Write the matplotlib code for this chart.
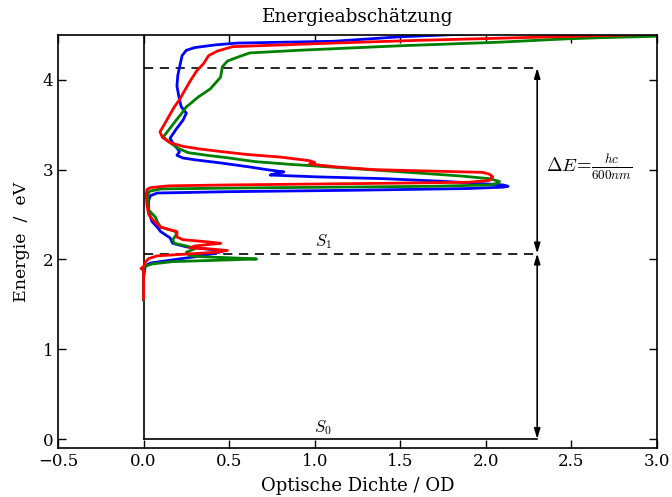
import matplotlib
matplotlib.use("Agg")
import matplotlib.pyplot as plt

plt.rcParams['font.family'] = ['DejaVu Serif']
plt.rcParams['mathtext.fontset'] = 'cm'
plt.rcParams['xtick.direction'] = 'in'
plt.rcParams['ytick.direction'] = 'in'

# ---- data (energy in eV, optical density) ----
blue_E = [1.55, 1.80, 1.93, 1.96, 1.99, 2.03, 2.07, 2.09, 2.11, 2.14, 2.18, 2.24, 2.31, 2.36, 2.42,
          2.47, 2.55, 2.66, 2.71, 2.74, 2.755, 2.77, 2.79, 2.805, 2.815, 2.83, 2.87, 2.90, 2.92,
          2.94, 2.96, 2.975, 3.00, 3.03, 3.075, 3.11, 3.13, 3.16, 3.20, 3.24, 3.30, 3.35, 3.45,
          3.55, 3.63, 3.70, 3.78, 3.93, 4.05, 4.14, 4.27, 4.33, 4.36, 4.39, 4.41, 4.43, 4.48, 4.52]
blue_OD = [0.0, 0.0, 0.01, 0.04, 0.15, 0.30, 0.42, 0.46, 0.40, 0.25, 0.17, 0.155, 0.10, 0.08, 0.05,
           0.04, 0.03, 0.03, 0.04, 0.08, 0.5, 1.2, 1.9, 2.10, 2.13, 2.10, 1.75, 1.40, 1.01,
           0.74, 0.78, 0.82, 0.72, 0.62, 0.45, 0.30, 0.23, 0.195, 0.21, 0.195, 0.17, 0.155, 0.19,
           0.23, 0.25, 0.22, 0.21, 0.195, 0.20, 0.21, 0.225, 0.25, 0.30, 0.42, 0.55, 1.11, 1.5, 2.0]

green_E = [1.55, 1.90, 1.92, 1.95, 1.976, 1.995, 2.005, 2.015, 2.03, 2.04, 2.08, 2.12, 2.15, 2.18,
           2.22, 2.27, 2.31, 2.36, 2.42, 2.47, 2.55, 2.65, 2.72, 2.76, 2.785, 2.795, 2.805, 2.815,
           2.83, 2.85, 2.867, 2.885, 2.90, 2.93, 2.97, 3.03, 3.06, 3.09, 3.13, 3.16, 3.19, 3.24,
           3.28, 3.30, 3.365, 3.45, 3.55, 3.62, 3.70, 3.73, 3.81, 3.90, 4.03, 4.145, 4.21, 4.26,
           4.30, 4.33, 4.38, 4.42, 4.457, 4.47, 4.485, 4.50]
green_OD = [0.0, 0.0, 0.005, 0.05, 0.17, 0.50, 0.66, 0.55, 0.35, 0.27, 0.25, 0.30, 0.25, 0.18,
            0.17, 0.19, 0.19, 0.10, 0.08, 0.07, 0.03, 0.025, 0.025, 0.035, 0.1, 0.5, 1.1, 1.7,
            2.02, 2.07, 2.08, 2.05, 2.02, 1.85, 1.55, 1.09, 0.85, 0.65, 0.50, 0.37, 0.26, 0.20,
            0.17, 0.155, 0.115, 0.15, 0.19, 0.22, 0.25, 0.27, 0.32, 0.39, 0.45, 0.46, 0.49, 0.56,
            0.62, 0.91, 1.50, 2.08, 2.47, 2.67, 2.98, 3.1]

red_E = [1.56, 1.80, 1.88, 1.90, 1.92, 1.97, 2.01, 2.04, 2.06, 2.08, 2.10, 2.115, 2.13, 2.15,
         2.17, 2.18, 2.195, 2.22, 2.25, 2.31, 2.36, 2.44, 2.50, 2.60, 2.72, 2.78, 2.80, 2.82,
         2.83, 2.84, 2.85, 2.86, 2.88, 2.92, 2.95, 2.97, 3.00, 3.03, 3.05, 3.065, 3.08, 3.10,
         3.14, 3.17, 3.20, 3.23, 3.26, 3.30, 3.36, 3.42, 3.50, 3.60, 3.70, 3.78, 3.98, 4.10,
         4.18, 4.27, 4.32, 4.37, 4.41, 4.44, 4.47, 4.50, 4.52]
red_OD = [0.0, 0.0, 0.0, -0.015, 0.0, 0.01, 0.03, 0.08, 0.25, 0.42, 0.49, 0.40, 0.27, 0.30,
          0.40, 0.45, 0.38, 0.23, 0.195, 0.195, 0.10, 0.055, 0.03, 0.02, 0.015, 0.02, 0.04, 0.15,
          0.5, 1.0, 1.5, 1.9, 2.02, 2.04, 2.02, 1.98, 1.35, 1.13, 1.03, 0.97, 1.00, 0.97,
          0.80, 0.60, 0.46, 0.33, 0.23, 0.155, 0.11, 0.096, 0.12, 0.15, 0.18, 0.21, 0.27, 0.31,
          0.35, 0.38, 0.43, 0.52, 1.11, 1.6, 2.2, 2.8, 3.2]

S1 = 2.066
S2 = 4.133
x_arrow = 2.3

fig = plt.figure(figsize=(6.72, 4.97), dpi=100)
ax = fig.add_axes([0.0863, 0.0986, 0.8914, 0.831])

# level lines
ax.plot([0, 0], [0, 4.6], color='black', lw=1.2)
ax.plot([0, x_arrow], [0, 0], color='black', lw=1.2)
ax.plot([0, x_arrow], [S1, S1], color='black', lw=1.2, dashes=(5.5, 4))
ax.plot([0, x_arrow], [S2, S2], color='black', lw=1.2, dashes=(5.5, 4))

ax.plot(blue_OD, blue_E, color='#0000ff', lw=2)
ax.plot(green_OD, green_E, color='#008000', lw=2)
ax.plot(red_OD, red_E, color='#ff0000', lw=2)

arrow = dict(arrowstyle='<|-|>,head_length=0.6,head_width=0.18', color='black', lw=1.2,
             shrinkA=0, shrinkB=0)
ax.annotate('', xy=(x_arrow, 0), xytext=(x_arrow, S1), arrowprops=arrow)
ax.annotate('', xy=(x_arrow, S1), xytext=(x_arrow, S2), arrowprops=arrow)

ax.text(1.05, 0.02, r'$S_0$', ha='center', va='bottom', fontsize=12)
ax.text(1.05, S1 + 0.03, r'$S_1$', ha='center', va='bottom', fontsize=12)
ax.text(2.35, 3.03, r'$\Delta E\!=\!\frac{hc}{600nm}$', ha='left', va='center', fontsize=13.5)

ax.set_xlim(-0.5, 3.0)
ax.set_ylim(-0.1, 4.5)
ax.set_xticks([-0.5, 0.0, 0.5, 1.0, 1.5, 2.0, 2.5, 3.0])
ax.set_yticks([0, 1, 2, 3, 4])
ax.tick_params(axis='both', which='major', length=6, width=1, labelsize=12,
               top=True, right=True, direction='in')
for s in ax.spines.values():
    s.set_linewidth(1.2)

ax.set_title('Energieabschätzung', fontsize=13.3, pad=9)
ax.set_xlabel('Optische Dichte / OD', fontsize=13, labelpad=5)
ax.set_ylabel('Energie  /  eV', fontsize=12.5, labelpad=9)

fig.savefig('out.png', dpi=100)
